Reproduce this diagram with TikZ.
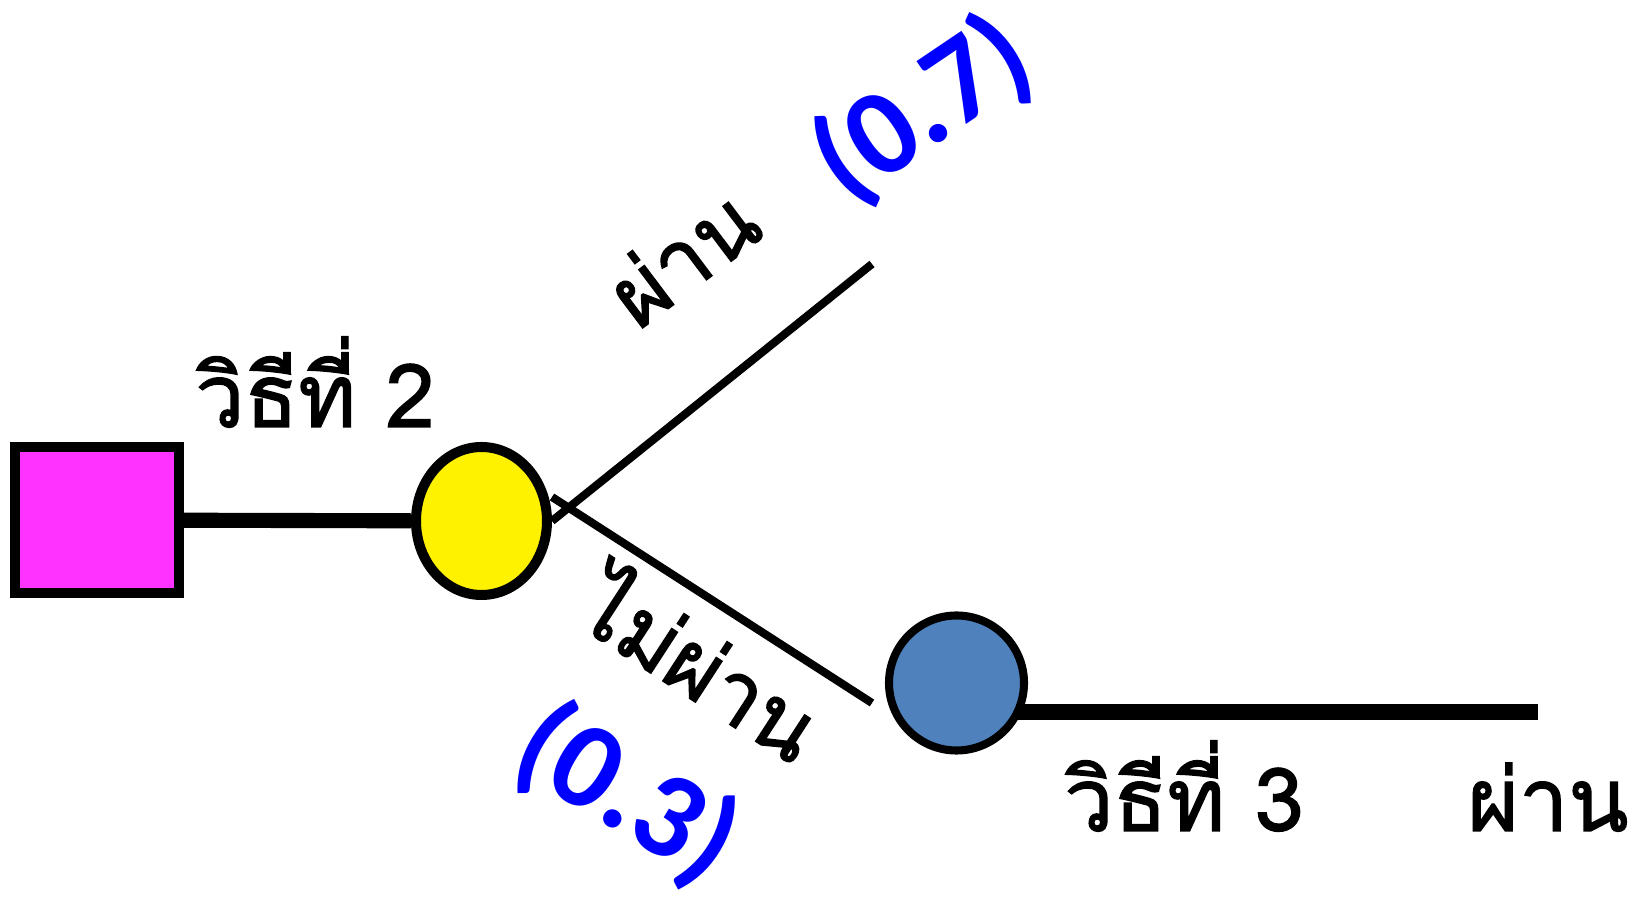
\documentclass[tikz,border=0pt]{standalone}
\usepackage{fontspec}
\newfontfamily\thai[Script=Thai,FakeBold=1.6]{Loma}
\newfontfamily\probfont{Carlito}
\usetikzlibrary{shapes.geometric}
\pgfdeclarelayer{bg}\pgfsetlayers{bg,main}
\definecolor{boxpink}{HTML}{FF33FF}
\definecolor{steel}{HTML}{4F81BD}
\begin{document}
\begin{tikzpicture}[x=0.1mm,y=-0.1mm,every node/.style={font=\thai\fontsize{25}{30}\selectfont,inner sep=0pt},
  bar/.style={line width=4.3pt},branch/.style={line width=2.3pt},
  prob/.style={font=\probfont\bfseries\fontsize{35}{40}\selectfont,text=blue}]
\useasboundingbox (0,0) rectangle (1632,898);
% chance nodes
\node[draw,line width=2.85pt,fill=boxpink,minimum width=16.4mm,minimum height=14.6mm] (sq) at (97,520) {};
\node[ellipse,draw,line width=2.85pt,fill=yellow,minimum width=13.1mm,minimum height=14.8mm] (y) at (481.5,521) {};
\node[circle,draw,line width=2.3pt,fill=steel,minimum size=13.5mm] (b) at (956.5,683) {};
\coordinate (pass) at (872,264); \coordinate (fail) at (872,703); \coordinate (end3) at (1538,712);
\begin{pgfonlayer}{bg}
\draw[bar](sq)--(y); \draw[bar](b.center |- end3)--(end3);
\draw[branch](y.east)--(pass); \draw[branch]([yshift=2.4mm]y.east)--(fail);
\end{pgfonlayer}
% labels
\node[anchor=base] (m2) at (315,427) {วิธีที่ 2};
\node[anchor=base] (m3) at (1184,831) {วิธีที่ 3};
\node[anchor=base] (ok3) at (1548,831) {ผ่าน};
\node[rotate=37] (ok2) at (682,256) {ผ่าน};
\node[prob,rotate=34] (p7) at (923,110) {(0.7)};
\node[rotate=-33] (no2) at (704,661) {ไม่ผ่าน};
\node[prob,rotate=-31] (p3) at (627,795) {(0.3)};
\end{tikzpicture}
\end{document}
